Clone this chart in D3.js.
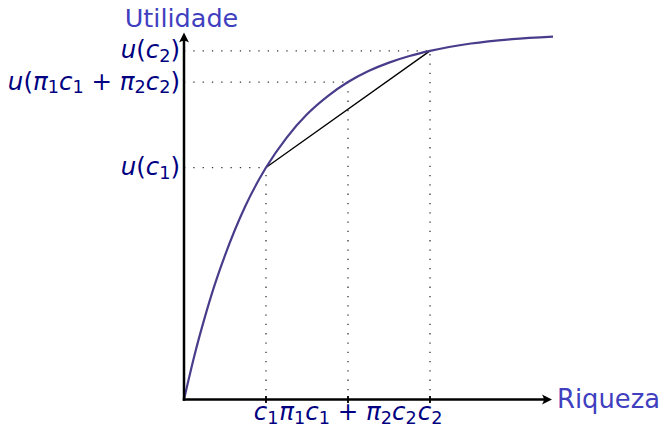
<!DOCTYPE html>
<html><head><meta charset="utf-8">
<script src="https://cdn.jsdelivr.net/npm/d3@7"></script>
<style>body{margin:0;background:#fff}svg{display:block}</style>
</head><body>
<svg id="chart" width="664" height="427"></svg>
<script>
// Wealth sample points and utility
const curveWealth  = [0, 0.125, 0.25, 0.375, 0.5, 0.75, 1, 1.25, 1.5, 1.75, 2, 2.25, 2.5, 2.75, 3, 3.5, 4, 4.5];
const curveUtility = [0, 0.118, 0.221, 0.313, 0.393, 0.528, 0.632, 0.713, 0.777, 0.826, 0.865, 0.895, 0.918, 0.936, 0.950, 0.970, 0.982, 0.989];
// Marked points: c1, π1c1+π2c2, c2
const markWealth  = [1, 2, 3];
const markUtility = [0.632, 0.865, 0.950];
// Chord endpoints (c1 and c2)
const chordWealth  = [1, 3];
const chordUtility = [0.632, 0.950];
// Tick labels as [text, italic, subscript] parts
const xTickLabels = [
  [["c",1,0],["1",0,1]],
  [["π",1,0],["1",0,1],["c",1,0],["1",0,1],[" + ",0,0],["π",1,0],["2",0,1],["c",1,0],["2",0,1]],
  [["c",1,0],["2",0,1]]
];
const yTickLabels = [
  [["u",1,0],["(",0,0],["c",1,0],["1",0,1],[")",0,0]],
  [["u",1,0],["(",0,0],["π",1,0],["1",0,1],["c",1,0],["1",0,1],[" + ",0,0],["π",1,0],["2",0,1],["c",1,0],["2",0,1],[")",0,0]],
  [["u",1,0],["(",0,0],["c",1,0],["2",0,1],[")",0,0]]
];
const xAxisTitle = "Riqueza";
const yAxisTitle = "Utilidade";

const svg = d3.select("#chart");
const x = d3.scaleLinear().domain([0, 4.5]).range([184, 553]);
const y = d3.scaleLinear().domain([0, 1]).range([399.5, 32.5]);

const dotted = {stroke:"#333", "stroke-width":1.3, "stroke-dasharray":"1.3 8"};
function applyAttrs(sel, o){ for (const k in o) sel.attr(k, o[k]); return sel; }

// dotted guides
markWealth.forEach((w,i)=>{
  applyAttrs(svg.append("line").attr("x1", x(w)).attr("x2", x(w)).attr("y1", y(0)).attr("y2", y(markUtility[i])), dotted);
  applyAttrs(svg.append("line").attr("x1", x(0)).attr("x2", x(w)).attr("y1", y(markUtility[i])).attr("y2", y(markUtility[i])), dotted);
});

// chord
svg.append("line")
  .attr("x1", x(chordWealth[0])).attr("y1", y(chordUtility[0]))
  .attr("x2", x(chordWealth[1])).attr("y2", y(chordUtility[1]))
  .attr("stroke","#000").attr("stroke-width",1.3);

// curve
const line = d3.line().x(d=>x(d[0])).y(d=>y(d[1])).curve(d3.curveMonotoneX);
svg.append("path")
  .datum(curveWealth.map((w,i)=>[w, curveUtility[i]]))
  .attr("d", line).attr("fill","none").attr("stroke","#483d8b").attr("stroke-width",2.2);

// axes
svg.append("line").attr("x1", x(0)-1.25).attr("x2", x(4.5)-4).attr("y1", y(0)).attr("y2", y(0))
  .attr("stroke","#000").attr("stroke-width",2.5);
svg.append("line").attr("x1", x(0)).attr("x2", x(0)).attr("y1", y(0)+1.25).attr("y2", y(1)+4)
  .attr("stroke","#000").attr("stroke-width",2.5);
// arrow heads
function arrow(tx, ty, angle){
  svg.append("path")
    .attr("d","M0,0 L-10,-5 Q-6.5,0 -10,5 Z")
    .attr("transform",`translate(${tx},${ty}) rotate(${angle})`)
    .attr("fill","#000");
}
arrow(x(4.5)-1, y(0), 0);
arrow(x(0), y(1), -90);

// x ticks
markWealth.forEach(w=>{
  svg.append("line").attr("x1", x(w)).attr("x2", x(w)).attr("y1", y(0)-3.5).attr("y2", y(0)+3.5)
    .attr("stroke","#000").attr("stroke-width",1.8);
});

function mathText(parent, parts, size){
  const t = parent.append("text")
    .attr("font-family","DejaVu Sans").attr("font-size", size).attr("fill","#000080");
  let prevSub = 0;
  parts.forEach(p=>{
    const s = t.append("tspan").text(p[0]).attr("xml:space","preserve")
      .style("white-space","pre")
      .attr("font-style", p[1] ? "italic" : "normal");
    if (p[2]) s.attr("font-size", size*0.72);
    const dy = (p[2] ? size*0.15 : 0) - (prevSub ? size*0.15 : 0);
    if (dy) s.attr("dy", dy);
    prevSub = p[2];
  });
  return t;
}

const fs = 24.5;
// x tick labels
markWealth.forEach((w,i)=>{
  mathText(svg, xTickLabels[i], fs).attr("x", x(w)).attr("y", 420).attr("text-anchor","middle");
});
// y tick labels
markUtility.forEach((u,i)=>{
  mathText(svg, yTickLabels[i], fs).attr("x", 180).attr("y", y(u)+7.5).attr("text-anchor","end");
});

// axis titles
svg.append("text").attr("x", x(4.5)+4).attr("y", y(0)+8.5)
  .attr("font-family","DejaVu Sans").attr("font-size",25.8).attr("fill","#3f3fbf").text(xAxisTitle);
svg.append("text").attr("x", x(0)-2.5).attr("y", 27).attr("text-anchor","middle")
  .attr("font-family","DejaVu Sans").attr("font-size",25.5).attr("fill","#3f3fbf").text(yAxisTitle);
</script>
</body></html>
